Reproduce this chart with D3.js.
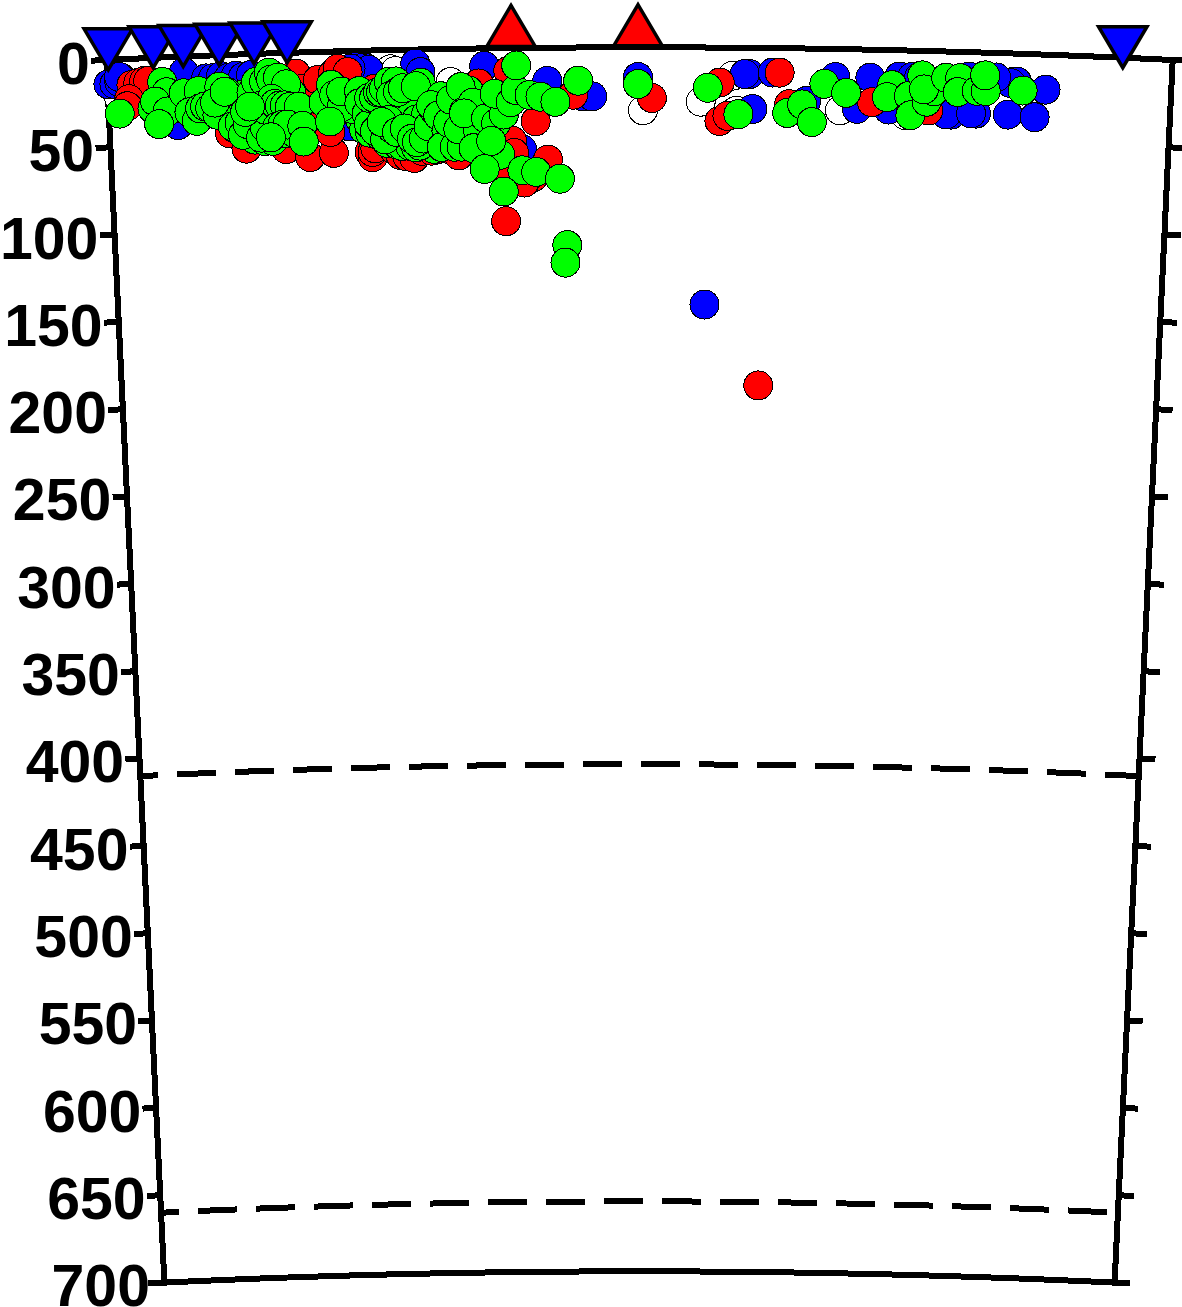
<!DOCTYPE html>
<html><head><meta charset="utf-8">
<style>html,body{margin:0;padding:0;background:#fff}svg{display:block}text{font-family:"Liberation Sans",Arial,sans-serif;font-weight:700}</style>
<script src="https://cdn.jsdelivr.net/npm/d3@7/dist/d3.min.js"></script>
</head><body><svg id="c" width="1182" height="1307"></svg>
<script>
const depthTicks = [0,50,100,150,200,250,300,350,400,450,500,550,600,650,700];
const discontinuities = [410,660];
const downStations = [0,45,75,111,146,179,1015];
const upStations = [403,530];
const white = [[9,22],[535,36],[593,31],[625,16],[629,36],[733,35],[799,37],[342,19],[282,11],[239,39],[287,12]];
const blue = [[-1,14],[5,14],[10,13],[13,11],[17,13],[10,10],[75,9],[62,36],[67,39],[97,13],[104,13],[112,12],[120,13],[127,12],[134,13],[142,12],
[249,9],[257,10],[252,10],[260,11],[242,10],[307,8],[312,13],[239,43],[376,10],[439,19],[475,28],[484,28],[413,58],[530,17],[598,147],
[642,15],[637,15],[665,14],[645,35],[699,30],[728,16],[750,34],[763,16],[792,15],[805,15],[812,15],[829,33],[845,36],[840,36],[870,35],[865,35],[902,35],[929,36],[939,20],[907,16],[910,16],[904,17],[889,14],[862,14],[782,34]];
const red = [[22,15],[29,14],[35,13],[39,13],[19,23],[17,27],[119,45],[135,54],[175,55],[199,60],[223,58],[187,12],[192,21],[209,16],[224,13],[229,10],[239,12],[199,42],[220,46],
[259,58],[262,61],[262,58],[265,56],[265,22],[284,57],[290,60],[297,61],[304,62],[312,58],[322,58],[329,57],[337,57],[349,61],
[427,42],[400,13],[403,53],[439,64],[424,74],[415,77],[395,71],[396,99],[465,27],[370,20],[405,60],
[544,29],[612,20],[612,42],[620,39],[672,14],[682,32],[765,30],[822,34],[654,193]];
const green = [[250,39],[254,45],[260,47],[270,49],[277,53],[287,54],[292,55],[300,55],[306,56],[317,55],[324,57],[242,33],[237,30],[267,37],[277,31],[287,37],[297,34],[307,40],[317,37],
[322,42],[332,48],[347,40],[362,43],[372,49],[357,52],[382,37],[337,34],[352,29],[370,29],[377,29],[360,24],
[124,34],[128,29],[134,23],[140,34],[144,43],[144,49],[154,50],[162,50],[170,46],[177,46],[184,46],[187,37],[182,23],[150,23],[157,21],[132,42],[124,42],
[9,31],[53,14],[57,20],[42,29],[45,25],[57,31],[48,38],[74,21],[89,20],[79,32],[86,37],[90,30],[95,29],[110,18],[117,21],[100,30],[107,34],[105,27],[115,21],
[122,41],[129,39],[132,46],[137,40],[142,22],[147,16],[155,16],[160,11],[162,15],[169,14],[177,18],[150,48],[154,42],[149,30],[155,32],[162,26],[165,29],[170,30],[175,30],[180,31],[189,31],[167,42],[172,41],[177,41],[192,42],[160,48],[135,33],[140,30],[193,51],
[214,29],[222,19],[225,25],[232,32],[220,40],[232,23],[250,23],[250,30],[257,36],[259,42],[260,27],[265,27],[269,24],[272,24],[275,22],[280,18],[287,18],[282,26],[289,24],[294,22],[312,19],[307,21],
[265,46],[275,51],[282,45],[279,40],[272,41],[287,47],[295,45],[302,51],[310,55],[307,53],[314,51],[319,44],[325,35],[332,27],[322,32],[329,38],[337,47],[332,56],[339,42],[342,29],[352,22],[355,36],[345,56],[352,56],[349,46],[369,47],[372,36],[364,57],[364,31],[355,37],[377,40],[387,43],[395,38],[386,26],[402,31],[407,24],[421,27],[432,28],[447,31],[470,19],[408,10],[391,61],[382,53],[375,69],[413,70],[427,71],[451,75],[394,82],[458,113],[456,123],
[530,21],[600,23],[631,38],[680,37],[695,32],[705,42],[717,20],[739,25],[785,20],[780,27],[802,26],[804,37],[820,29],[815,14],[827,23],[817,22],[839,15],[853,15],[851,23],[870,22],[879,22],[878,13],[916,21]];

const CX=639.5,TOP=47.3,R0=11230,R1=10006,TH=0.0475,D0=-2,D1=1065;
const theta=d3.scaleLinear().domain([D0,D1]).range([-TH,TH]);
const radius=d3.scaleLinear().domain([0,700]).range([R0,R1]);
const px=(dist,dep)=>CX+radius(dep)*Math.sin(theta(dist));
const py=(dist,dep)=>TOP+R0-radius(dep)*Math.cos(theta(dist));
const svg=d3.select("#c");
const line=d3.line().x(p=>px(p[0],p[1])).y(p=>py(p[0],p[1]));
const frame=svg.append("g").attr("fill","none").attr("stroke","#000").attr("stroke-width",6).attr("shape-rendering","crispEdges");
const along=(dep,a,b)=>d3.range(0,21).map(i=>[a+(b-a)*i/20,dep]);
frame.append("path").attr("d",line(along(0,D0,D1+8)));
frame.append("path").attr("d",line(along(700,D0-18,D1+16)));
const down=(dist)=>d3.range(0,15).map(i=>[dist,i*50]);
frame.append("path").attr("d",line(down(D0)));
frame.append("path").attr("d",line(down(D1)));
discontinuities.forEach(d=>frame.append("path").attr("d",line(along(d,D0,D1))).attr("stroke-dasharray","39 19").attr("stroke-dashoffset",21));
depthTicks.forEach(d=>{
  frame.append("path").attr("d",line([[D0-15,d],[D0,d]]));
  frame.append("path").attr("d",line([[D1,d],[D1+17,d]]));
});
svg.append("g").selectAll("text").data(depthTicks).join("text")
  .attr("x",d=>px(-21,d)+2.5).attr("y",d=>py(-21,d)+23).attr("text-anchor","end").attr("font-size",59).text(d=>d);
[[white,"#fff"],[blue,"#0000ff"],[red,"#ff0000"],[green,"#00ff00"]].forEach(([rows,fill])=>{
  svg.append("g").attr("shape-rendering","crispEdges").selectAll("circle").data(rows).join("circle")
    .attr("cx",p=>px(p[0],p[1])).attr("cy",p=>py(p[0],p[1])).attr("r",14.5)
    .attr("fill",fill).attr("stroke","#000").attr("stroke-width",1);
});
const marks=svg.append("g").attr("stroke","#000").attr("stroke-width",3.5).attr("stroke-linejoin","miter").attr("stroke-miterlimit",8);
marks.selectAll("path.d").data(downStations).join("path").attr("class","d").attr("fill","#0000ff")
  .attr("transform",d=>`translate(${px(d,0)},${py(d,0)+10})`).attr("d","M-24.2,-41L24.2,-41L0,0Z");
marks.selectAll("path.u").data(upStations).join("path").attr("class","u").attr("fill","#ff0000")
  .attr("transform",d=>`translate(${px(d,0)},${py(d,0)-1.6})`).attr("d","M-24.2,0L24.2,0L0,-41Z");
</script></body></html>
